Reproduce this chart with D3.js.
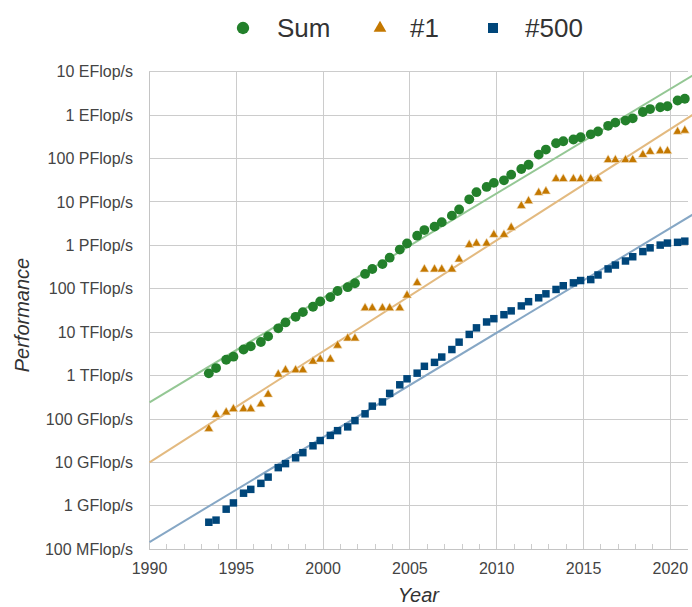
<!DOCTYPE html>
<html>
<head>
<meta charset="utf-8">
<script src="https://cdn.jsdelivr.net/npm/d3@7"></script>
<style>
  body { margin: 0; background: #fff; }
  text { font-family: "Liberation Sans", Arial, sans-serif; }
</style>
</head>
<body>
<svg id="chart"></svg>
<script>
// TOP500 list dates (June / November)
const listDates = [
  "1993-06","1993-11","1994-06","1994-11","1995-06","1995-11","1996-06","1996-11",
  "1997-06","1997-11","1998-06","1998-11","1999-06","1999-11","2000-06","2000-11",
  "2001-06","2001-11","2002-06","2002-11","2003-06","2003-11","2004-06","2004-11",
  "2005-06","2005-11","2006-06","2006-11","2007-06","2007-11","2008-06","2008-11",
  "2009-06","2009-11","2010-06","2010-11","2011-06","2011-11","2012-06","2012-11",
  "2013-06","2013-11","2014-06","2014-11","2015-06","2015-11","2016-06","2016-11",
  "2017-06","2017-11","2018-06","2018-11","2019-06","2019-11","2020-06","2020-11"
];

// values in GFlop/s
const sumValues = [
  1128, 1493, 2317, 2732, 3996, 4726, 5957, 8014,
  12300, 16800, 22600, 29000, 38500, 51000, 64300, 89000,
  108800, 134300, 220000, 285000, 370000, 520000, 800000, 1110000,
  1670000, 2250000, 2700000, 3420000, 4840000, 6700000, 11500000, 16800000,
  22200000, 27500000, 31500000, 42500000, 57500000, 72000000, 123000000, 161000000,
  225000000, 250000000, 274000000, 309000000, 361000000, 419000000, 566000000, 672000000,
  749000000, 845000000, 1180000000, 1380000000, 1520000000, 1600000000, 2170000000, 2380000000
];
const top1Values = [
  59.7, 124.5, 143.4, 170.4, 170.4, 170.4, 220.4, 368.2,
  1068, 1338, 1338, 1338, 2121, 2379, 2379, 4938,
  7226, 7226, 35860, 35860, 35860, 35860, 35860, 70720,
  136800, 280600, 280600, 280600, 280600, 478200, 1026000, 1105000,
  1105000, 1759000, 1759000, 2566000, 8162000, 10510000, 16320000, 17590000,
  33860000, 33860000, 33860000, 33860000, 33860000, 33860000, 93010000, 93010000,
  93010000, 93010000, 122300000, 143500000, 148600000, 148600000, 415530000, 442010000
];
const last500Values = [
  0.42, 0.47, 0.84, 1.17, 1.96, 2.4, 3.3, 4.6,
  7.6, 9.4, 12.8, 16.8, 24.2, 32, 42, 54,
  66, 92, 132, 198, 248, 390, 615, 845,
  1140, 1640, 2020, 2680, 3990, 5900, 8900, 12600,
  17200, 20500, 25300, 31000, 40300, 50500, 62000, 76600,
  96500, 117500, 137000, 155000, 163000, 208000, 287000, 352000,
  437000, 547000, 720000, 877000, 1015000, 1130000, 1175000, 1250000
];

// trend line end points (year, GFlop/s)
const trendYears = [1990, 2022];
const sumTrend = [243, 1.22e10];
const top1Trend = [10, 1.55e9];
const last500Trend = [0.147, 7.6e6];

const yTickValues = [0.1, 1, 10, 100, 1e3, 1e4, 1e5, 1e6, 1e7, 1e8, 1e9, 1e10];
const yTickLabels = ["100 MFlop/s", "1 GFlop/s", "10 GFlop/s", "100 GFlop/s", "1 TFlop/s",
  "10 TFlop/s", "100 TFlop/s", "1 PFlop/s", "10 PFlop/s", "100 PFlop/s", "1 EFlop/s", "10 EFlop/s"];
const xMajorTicks = [1990, 1995, 2000, 2005, 2010, 2015, 2020];

const seriesNames = ["Sum", "#1", "#500"];

function getConfig() {
  let width = 692, height = 607;
  let left = 149, right = 687.7, top = 71.7, bottom = 549.3;
  let container = d3.select("#chart").attr("width", width).attr("height", height);
  return { width, height, left, right, top, bottom, container };
}

function getScales(cfg) {
  let x = d3.scaleLinear().domain([1990, 2021]).range([cfg.left + 0.5, cfg.right]);
  let y = d3.scaleLog().domain([0.1, 1e10]).range([cfg.bottom, cfg.top]);
  let color = d3.scaleOrdinal().domain(seriesNames).range(["#23802b", "#c47800", "#00467a"]);
  let trendColor = d3.scaleOrdinal().domain(seriesNames).range(["#94c794", "#e3ba80", "#86a7c5"]);
  let symbol = d3.scaleOrdinal().domain(seriesNames)
    .range([d3.symbolCircle, d3.symbolTriangle, d3.symbolSquare]);
  return { x, y, color, trendColor, symbol };
}

function dateToYear(s) {
  let [yr, mo] = s.split("-").map(Number);
  return yr + (mo - 1) / 12;
}

function drawGrid(cfg, sc) {
  let g = cfg.container.append("g");
  g.selectAll(".hgrid").data(yTickValues).enter().append("line")
    .attr("x1", cfg.left).attr("x2", cfg.right)
    .attr("y1", d => sc.y(d)).attr("y2", d => sc.y(d))
    .attr("stroke", "#cccccc").attr("stroke-width", 1).attr("shape-rendering", "crispEdges");
  g.selectAll(".vgrid").data(xMajorTicks.slice(1)).enter().append("line")
    .attr("x1", d => sc.x(d)).attr("x2", d => sc.x(d))
    .attr("y1", cfg.top).attr("y2", cfg.bottom)
    .attr("stroke", "#cccccc").attr("stroke-width", 1).attr("shape-rendering", "crispEdges");
  // minor year ticks
  let years = d3.range(1991, 2021).filter(d => d % 5 != 0);
  g.selectAll(".minor").data(years).enter().append("line")
    .attr("x1", d => sc.x(d)).attr("x2", d => sc.x(d))
    .attr("y1", cfg.bottom - 5).attr("y2", cfg.bottom)
    .attr("stroke", "#cccccc").attr("shape-rendering", "crispEdges");
  // axis lines
  g.append("line").attr("x1", cfg.left).attr("x2", cfg.left)
    .attr("y1", cfg.top).attr("y2", cfg.bottom)
    .attr("stroke", "#c4c4c4").attr("shape-rendering", "crispEdges");
  g.append("line").attr("x1", cfg.left).attr("x2", cfg.right)
    .attr("y1", cfg.bottom).attr("y2", cfg.bottom)
    .attr("stroke", "#c4c4c4").attr("shape-rendering", "crispEdges");

  // labels
  g.selectAll(".ylab").data(yTickValues).enter().append("text")
    .attr("x", 133).attr("y", d => sc.y(d)).attr("dy", "0.35em")
    .attr("text-anchor", "end").attr("font-size", 16).attr("fill", "#444")
    .text((d, i) => yTickLabels[i]);
  g.selectAll(".xlab").data(xMajorTicks).enter().append("text")
    .attr("x", d => sc.x(d)).attr("y", 574)
    .attr("text-anchor", "middle").attr("font-size", 16).attr("fill", "#444")
    .text(d => d);

  g.append("text").attr("x", (cfg.left + cfg.right) / 2).attr("y", 602)
    .attr("text-anchor", "middle").attr("font-size", 20).attr("font-style", "italic")
    .attr("fill", "#333").text("Year");
  g.append("text").attr("transform", "translate(29,315) rotate(-90)")
    .attr("text-anchor", "middle").attr("font-size", 20).attr("font-style", "italic")
    .attr("fill", "#333").text("Performance");
}

function drawSeries(cfg, sc) {
  let series = [
    { name: "Sum", values: sumValues, trend: sumTrend, size: 76 },
    { name: "#1", values: top1Values, trend: top1Trend, size: 36 },
    { name: "#500", values: last500Values, trend: last500Trend, size: 56 }
  ];
  let line = d3.line().x(d => sc.x(d[0])).y(d => sc.y(d[1]));
  let lines = cfg.container.append("g");
  series.forEach(s => {
    lines.append("path")
      .datum(trendYears.map((yr, i) => [yr, s.trend[i]]))
      .attr("d", line)
      .attr("fill", "none")
      .attr("stroke", sc.trendColor(s.name))
      .attr("stroke-width", 2);
  });
  series.forEach(s => {
    let pts = listDates.map((d, i) => [dateToYear(d), s.values[i]]);
    cfg.container.append("g").selectAll("path").data(pts).enter().append("path")
      .attr("d", d3.symbol().type(sc.symbol(s.name)).size(s.size))
      .attr("transform", d => "translate(" + sc.x(d[0]) + "," + sc.y(d[1]) + ")")
      .attr("fill", sc.color(s.name))
      .attr("stroke", s.name == "#1" ? "#f3e3c8" : "none")
      .attr("stroke-width", 0.6);
  });
}

function drawLegend(cfg, sc) {
  let items = [
    { name: "Sum", mx: 243, tx: 277, size: 120 },
    { name: "#1", mx: 380, tx: 410, size: 70 },
    { name: "#500", mx: 493, tx: 525, size: 100 }
  ];
  let g = cfg.container.append("g");
  items.forEach(it => {
    g.append("path")
      .attr("d", d3.symbol().type(sc.symbol(it.name)).size(it.size))
      .attr("transform", "translate(" + it.mx + ",28)")
      .attr("fill", sc.color(it.name));
    g.append("text").attr("x", it.tx).attr("y", 37)
      .attr("font-size", 26).attr("fill", "#333").text(it.name);
  });
}

let cfg = getConfig();
let sc = getScales(cfg);
drawGrid(cfg, sc);
drawSeries(cfg, sc);
drawLegend(cfg, sc);
</script>
</body>
</html>
